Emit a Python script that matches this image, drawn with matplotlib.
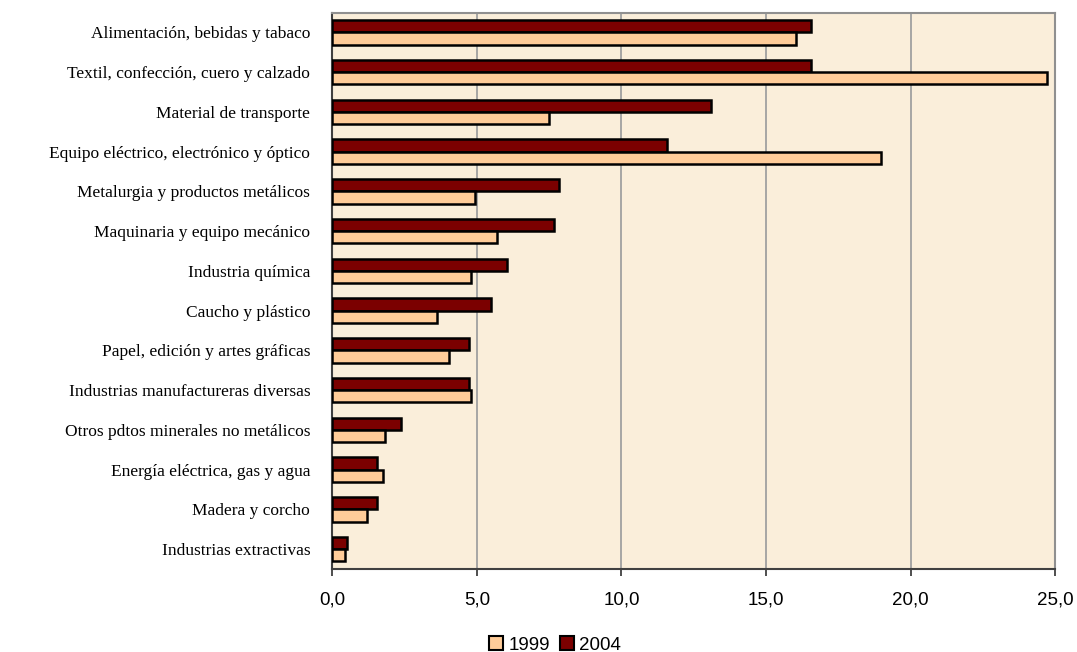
import numpy as np
import matplotlib
matplotlib.use("Agg")
import matplotlib.pyplot as plt
from matplotlib.ticker import MultipleLocator, FuncFormatter
from matplotlib.patches import Patch

# Datos (de arriba hacia abajo)
sectores = [
    "Alimentación, bebidas y tabaco",
    "Textil, confección, cuero y calzado",
    "Material de transporte",
    "Equipo eléctrico, electrónico y óptico",
    "Metalurgia y productos metálicos",
    "Maquinaria y equipo mecánico",
    "Industria química",
    "Caucho y plástico",
    "Papel, edición y artes gráficas",
    "Industrias manufactureras diversas",
    "Otros pdtos minerales no metálicos",
    "Energía eléctrica, gas y agua",
    "Madera y corcho",
    "Industrias extractivas",
]
valores_1999 = [16.05, 24.73, 7.48, 18.98, 4.93, 5.70, 4.80, 3.62, 4.04, 4.80, 1.82, 1.75, 1.19, 0.43]
valores_2004 = [16.56, 16.56, 13.10, 11.59, 7.85, 7.65, 6.05, 5.50, 4.73, 4.73, 2.37, 1.54, 1.54, 0.50]
años = ["1999", "2004"]

color_1999 = "#FFCC99"
color_2004 = "#7B0000"
fondo = "#FAEEDA"

fig = plt.figure(figsize=(10.77, 6.52), dpi=100)
ax = fig.add_axes([0.3087, 0.1273, 0.9796 - 0.3087, 0.9808 - 0.1273])
ax.set_facecolor(fondo)

y = np.arange(len(sectores))
alto = 0.31
ax.barh(y - alto / 2, valores_2004, height=alto, color=color_2004,
        edgecolor="black", linewidth=1.8, zorder=3)
ax.barh(y + alto / 2, valores_1999, height=alto, color=color_1999,
        edgecolor="black", linewidth=1.8, zorder=3)

ax.set_xlim(0, 25)
ax.set_ylim(len(sectores) - 0.5, -0.5)
ax.xaxis.set_major_locator(MultipleLocator(5))
ax.xaxis.set_major_formatter(FuncFormatter(lambda v, p: f"{v:.1f}".replace(".", ",")))
ax.grid(axis="x", color="#A0A0A0", linewidth=1.3, zorder=1)
ax.set_axisbelow(True)

ax.set_yticks(y)
ax.set_yticklabels(sectores, fontfamily="Liberation Serif", fontsize=12.5)
ax.tick_params(axis="y", length=0, pad=16)
ax.tick_params(axis="x", length=5, width=1.3, color="#404040", pad=11,
               labelsize=13.5)
for lbl in ax.get_xticklabels():
    lbl.set_fontfamily("Liberation Sans")

for lado in ["top", "right"]:
    ax.spines[lado].set_color("#909090")
    ax.spines[lado].set_linewidth(1.5)
for lado in ["left", "bottom"]:
    ax.spines[lado].set_color("#404040")
    ax.spines[lado].set_linewidth(1.5)

manejadores = [Patch(facecolor=color_1999, edgecolor="black", linewidth=1.5),
               Patch(facecolor=color_2004, edgecolor="black", linewidth=1.5)]
fig.legend(manejadores, años, loc="center", bbox_to_anchor=(555 / 1077, 1 - 645 / 652),
           ncol=2, frameon=False, handlelength=0.75, handleheight=0.75,
           handletextpad=0.3, columnspacing=0.5,
           prop={"family": "Liberation Sans", "size": 13.5})

fig.savefig("out.png", dpi=100)
